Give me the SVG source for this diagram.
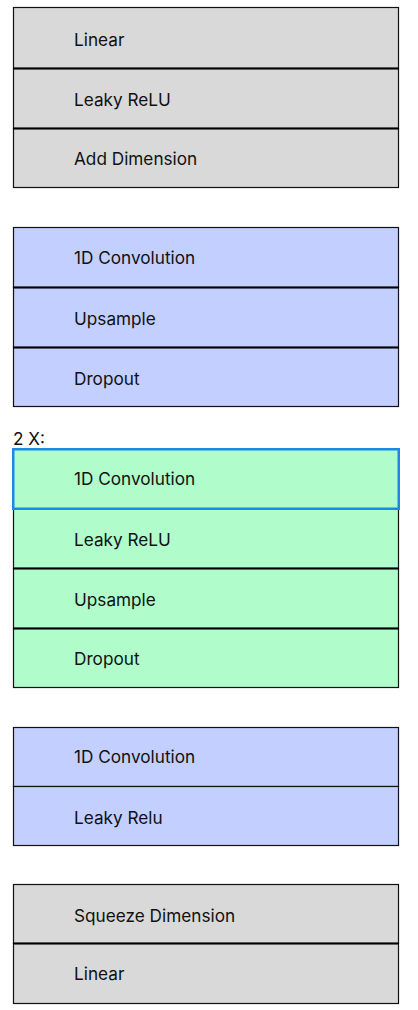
<svg xmlns="http://www.w3.org/2000/svg" width="418" height="1010" viewBox="0 0 418 1010">
<style>
rect.r{stroke:#111;stroke-width:1.2}
.g{fill:#d9d9d9}
.b{fill:#c3cfff}
.n{fill:#b0fcca}
line.s{stroke:#000;stroke-width:2.2}
text{font-family:Inter,"Noto Sans",sans-serif;font-size:17.2px;fill:#111;dominant-baseline:central}
</style>
<rect width="418" height="1010" fill="#fff"/>
<g id="group1">
<g id="n-linear1"><rect class="r g" x="13.5" y="7.5" width="385" height="61"/><text x="74" y="39">Linear</text></g>
<g id="n-leaky1"><rect class="r g" x="13.5" y="68.5" width="385" height="60"/><text x="74" y="99">Leaky ReLU</text></g>
<g id="n-adddim"><rect class="r g" x="13.5" y="128.5" width="385" height="59"/><text x="74" y="158">Add Dimension</text></g>
</g>
<g id="group2">
<g id="n-conv1"><rect class="r b" x="13.5" y="227.5" width="385" height="60"/><text x="74" y="257">1D Convolution</text></g>
<g id="n-up1"><rect class="r b" x="13.5" y="287.5" width="385" height="60"/><text x="74" y="318">Upsample</text></g>
<g id="n-drop1"><rect class="r b" x="13.5" y="347.5" width="385" height="59"/><text x="74" y="378">Dropout</text></g>
</g>
<text id="label-2x" x="13" y="438">2 X:</text>
<g id="group3">
<g id="n-leaky2"><rect class="r n" x="13.5" y="508.5" width="385" height="60"/><text x="74" y="539">Leaky ReLU</text></g>
<g id="n-up2"><rect class="r n" x="13.5" y="568.5" width="385" height="60"/><text x="74" y="599">Upsample</text></g>
<g id="n-drop2"><rect class="r n" x="13.5" y="628.5" width="385" height="59"/><text x="74" y="658">Dropout</text></g>
<g id="n-conv2"><rect x="13.25" y="449.25" width="385.5" height="59.5" fill="#b0fcca" stroke="#1e88e5" stroke-width="2.5"/><text x="74" y="478">1D Convolution</text></g>
</g>
<g id="group4">
<g id="n-conv3"><rect class="r b" x="13.5" y="727.5" width="385" height="59"/><text x="74" y="756">1D Convolution</text></g>
<g id="n-leaky3"><rect class="r b" x="13.5" y="786.5" width="385" height="59"/><text x="74" y="817">Leaky Relu</text></g>
</g>
<g id="group5">
<g id="n-squeeze"><rect class="r g" x="13.5" y="884.5" width="385" height="59"/><text x="74" y="915">Squeeze Dimension</text></g>
<g id="n-linear2"><rect class="r g" x="13.5" y="943.5" width="385" height="60"/><text x="74" y="973">Linear</text></g>
</g>
<g id="separators">
<line class="s" x1="13" y1="68.5" x2="399" y2="68.5"/>
<line class="s" x1="13" y1="128.5" x2="399" y2="128.5"/>
<line class="s" x1="13" y1="287.5" x2="399" y2="287.5"/>
<line class="s" x1="13" y1="347.5" x2="399" y2="347.5"/>
<line class="s" x1="13" y1="568.5" x2="399" y2="568.5"/>
<line class="s" x1="13" y1="628.5" x2="399" y2="628.5"/>
<line class="s" x1="13" y1="943.5" x2="399" y2="943.5"/>
</g>
<g id="connectors"></g>
</svg>
